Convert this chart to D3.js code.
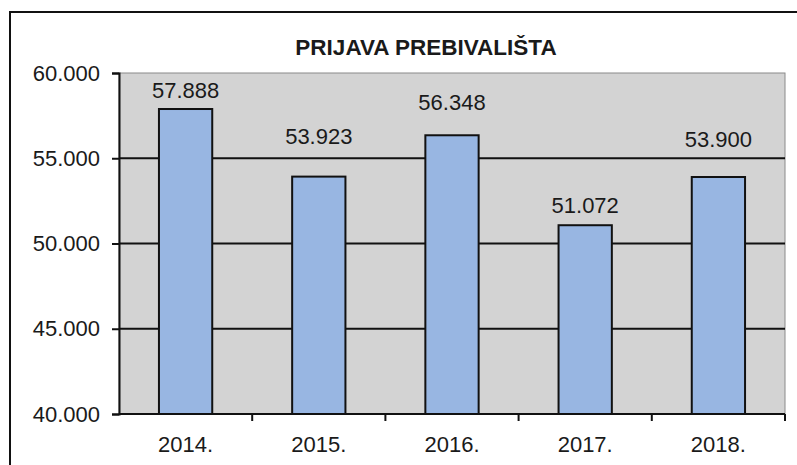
<!DOCTYPE html>
<html>
<head>
<meta charset="utf-8">
<script src="https://cdn.jsdelivr.net/npm/d3@7"></script>
<style>
    body { margin: 0; background: #fff; }
    svg { display: block; font-family: "Liberation Sans", Arial, sans-serif; }
</style>
</head>
<body>
<div id="chart"></div>
<script>
// data
var years = ['2014.', '2015.', '2016.', '2017.', '2018.'];
var prijave = [57888, 53923, 56348, 51072, 53900];
var yTicks = [40000, 45000, 50000, 55000, 60000];
var title = 'PRIJAVA PREBIVALIŠTA';

// the labels in the original were nudged by hand, so lift each one a bit differently (px)
var labelLift = [11, 33, 25, 12, 30];

var width = 797, height = 465;
var plot = { left: 119, top: 73, right: 785, bottom: 414 };

var svg = d3.select('#chart').append('svg')
    .attr('width', width)
    .attr('height', height);

// outer frame, runs off the right and bottom edge like in the scan
svg.append('rect')
    .attr('x', 10).attr('y', 12)
    .attr('width', 900).attr('height', 600)
    .attr('fill', 'none')
    .attr('stroke', '#111')
    .attr('stroke-width', 2);

var x = d3.scaleBand()
    .domain(years)
    .range([plot.left, plot.right])
    .paddingInner(0.6)
    .paddingOuter(0.3);

// band used for tick marks (one slot per category)
var xSlot = d3.scaleBand()
    .domain(years)
    .range([plot.left, plot.right]);

var y = d3.scaleLinear()
    .domain([40000, 60000])
    .range([plot.bottom, plot.top]);

var fmt = function(d) { return d3.format(',')(d).replace(/,/g, '.'); };

// plot background
svg.append('rect')
    .attr('x', plot.left).attr('y', plot.top)
    .attr('width', plot.right - plot.left)
    .attr('height', plot.bottom - plot.top)
    .attr('fill', '#d3d3d3')
    .attr('stroke', '#8a8a8a')
    .attr('stroke-width', 1);

// gridlines
svg.append('g').selectAll('line')
    .data(yTicks.filter(function(d) { return d > 40000 && d < 60000; }))
    .enter().append('line')
    .attr('x1', plot.left).attr('x2', plot.right)
    .attr('y1', function(d) { return y(d); })
    .attr('y2', function(d) { return y(d); })
    .attr('stroke', '#111')
    .attr('stroke-width', 2);

// bars
svg.append('g').selectAll('rect')
    .data(prijave)
    .enter().append('rect')
    .attr('x', function(d, i) { return x(years[i]); })
    .attr('y', function(d) { return y(d); })
    .attr('width', x.bandwidth())
    .attr('height', function(d) { return y(40000) - y(d); })
    .attr('fill', '#98b6e2')
    .attr('stroke', '#111')
    .attr('stroke-width', 2);

// value labels
svg.append('g').selectAll('text')
    .data(prijave)
    .enter().append('text')
    .attr('x', function(d, i) { return x(years[i]) + x.bandwidth() / 2; })
    .attr('y', function(d, i) { return y(d) - labelLift[i]; })
    .attr('text-anchor', 'middle')
    .attr('font-size', 22)
    .attr('fill', '#1a1a1a')
    .text(fmt);

// y axis
var yAxis = d3.axisLeft(y)
    .tickValues(yTicks)
    .tickFormat(fmt)
    .tickSize(7)
    .tickPadding(12);

var gy = svg.append('g')
    .attr('transform', 'translate(' + plot.left + ',0)')
    .call(yAxis);
gy.select('.domain').attr('stroke', '#111').attr('stroke-width', 2);
gy.selectAll('.tick line').attr('stroke', '#111').attr('stroke-width', 2);
gy.selectAll('.tick text')
    .attr('font-size', 22)
    .attr('font-family', '"Liberation Sans", Arial, sans-serif')
    .attr('fill', '#1a1a1a');

// x axis: ticks on slot boundaries, labels in the middle
var gx = svg.append('g')
    .attr('transform', 'translate(0,' + plot.bottom + ')');
gx.append('line')
    .attr('x1', plot.left).attr('x2', plot.right)
    .attr('stroke', '#111')
    .attr('stroke-width', 2);
gx.selectAll('line.tick')
    .data(years.slice(1).concat(['end']))
    .enter().append('line')
    .attr('class', 'tick')
    .attr('x1', function(d) { return d === 'end' ? plot.right : xSlot(d); })
    .attr('x2', function(d) { return d === 'end' ? plot.right : xSlot(d); })
    .attr('y1', 0).attr('y2', 7)
    .attr('stroke', '#111')
    .attr('stroke-width', 2);
gx.selectAll('text')
    .data(years)
    .enter().append('text')
    .attr('x', function(d) { return xSlot(d) + xSlot.bandwidth() / 2; })
    .attr('y', 38)
    .attr('text-anchor', 'middle')
    .attr('font-size', 22)
    .attr('fill', '#1a1a1a')
    .text(function(d) { return d; });

// title
svg.append('text')
    .attr('x', 426)
    .attr('y', 55)
    .attr('text-anchor', 'middle')
    .attr('font-size', 22.5)
    .attr('font-weight', 'bold')
    .attr('fill', '#1a1a1a')
    .text(title);
</script>
</body>
</html>
